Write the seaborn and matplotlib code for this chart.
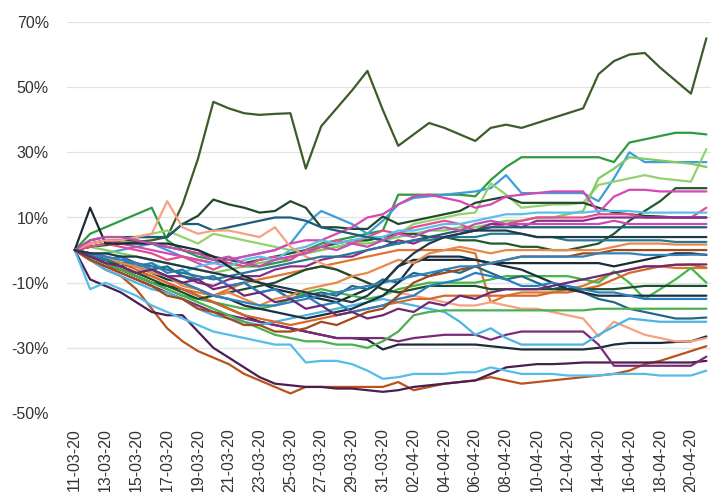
import matplotlib
matplotlib.use("Agg")
import matplotlib.pyplot as plt
import seaborn as sns
import pandas as pd
from matplotlib.ticker import FuncFormatter

# one value per day, 11-03-20 .. 21-04-20, cumulative change in %
dates = pd.date_range("2020-03-11", "2020-04-21", freq="D")

s01 = [0, 1, 1.5, 2, 2.5, 3, 4, 14, 28, 45.5, 43.5, 42, 41.5, 41.8, 42, 25, 38, 43.5, 49, 55, 43, 32, 35.5, 39, 37.5, 35.5, 33.5, 37.5, 38.5, 37.5, 39, 40.5, 42, 43.5, 54, 58, 60, 60.5, 56, 52, 48, 65]
s02 = [0, 5, 7, 9, 11, 13, 3, 0, -2, -3, -4, -5, -5, -4, -3, 0, 2, 3, 4, 5, 6, 17, 17, 17, 17, 17, 16.5, 21.5, 25.5, 28.5, 28.5, 28.5, 28.5, 28.5, 28.5, 27, 33, 34, 35, 36, 36, 35.5]
s03 = [0, -2, -1, 0, 1, 2, 0, -2, -3, -4, -3, -2, -1, 0, 2, 8, 12, 10, 8, 5, 9, 14, 16, 16.5, 17, 17.5, 18, 19, 23, 17.5, 17.5, 17.5, 17.5, 17.5, 15, 22, 30, 27, 27, 27, 27, 27]
s04 = [0, 2, 3, 3, 4, 5, 6, 4, 2, 5, 4, 3, 2, 1, 0, -1, 0, 1, 2, 3, 4, 5, 8, 9, 10, 11, 11.5, 20.5, 17, 13, 13.5, 14, 14, 14.5, 20, 21, 22, 23, 22, 21.5, 21, 31]
s05 = [0, 1, 0, -1, -2, -3, -4, -5, -6, -7, -6, -5, -4, -3, -2, -1, 0, 1, 2, 2, 3, 4, 5, 6, 6, 7, 7, 8, 9, 9, 10, 10, 11, 12, 22, 25, 28.5, 28, 27.5, 27, 26.5, 25.5]
s06 = [0, 1, 2, 3, 3, 2, 1, 0, -1, -2, -3, -4, -3, -2, -1, 0, 1, 2, 3, 3, 4, 5, 5, 4, 4, 3, 3, 2, 2, 1, 1, 0, 0, 1, 2, 5, 9, 12, 15, 19, 19, 19]
s07 = [0, 2, 3, 3, 4, 4, 4, 8, 10.5, 15.5, 14, 13, 11.5, 12, 15, 13, 7, 7, 6.5, 6.5, 10.3, 8, 9, 10, 11, 12, 14.5, 15.5, 16.4, 14.5, 14.5, 14.5, 14.5, 14.5, 13, 11.5, 11, 10.5, 10.3, 10, 10, 10]
s08 = [0, 2, 3, 2, 1, 0, -1, -2, -3, -4, -3, -2, -1, 0, 2, 3, 3, 5, 7, 10, 11, 14, 16.5, 17, 16, 15, 13, 14, 16.4, 17, 17.5, 18, 18, 18, 11.5, 16.4, 18.5, 18.5, 18, 18, 18, 18]
s09 = [0, 1, 2, 1, 0, -1, -3, -2, -4, -6, -4, -5, -3, -2, -3, 0, 1, 3, 2, 4, 6, 5, 7, 8, 9, 8, 6, 7, 8, 9, 10, 10, 10, 10, 11, 11, 11, 10, 10, 10, 10, 13]
s10 = [0, -1, -2, -3, -5, -4, -6, -7, -5, -4, -5, -3, -2, -3, 0, 1, 3, 2, 3, 4, 4, 6, 6, 7, 8, 8, 9, 10, 11, 11, 11.5, 11.5, 11.5, 11.5, 12, 12, 12, 11.5, 11.5, 11.5, 11.5, 11.5]
s11 = [0, -2, -3, -5, -4, -6, -8, -8, -10, -11, -9, -8, -8, -6, -5, -5, -3, -2, -2, 0, 1, 3, 2, 4, 4, 5, 6, 8, 8, 7, 9, 9, 9, 9, 10, 10, 10, 10, 10, 10, 10, 10]
s12 = [0, 3, 4, 4, 4, 4, 4, 8, 8, 6, 7, 8, 9, 10, 10, 9, 7, 6, 5, 4, 3, 2, 3, 4, 5, 6, 6, 7, 7, 7, 7, 7, 7, 7, 7, 7, 7, 7, 7, 7, 7, 7]
s13 = [0, 13, 2, 2, 2, 2, 2, 1, 0, -2, -5, -8, -10, -12, -13, -14, -15, -16, -14, -12, -10, -5, -3, -3, -3, -3, -3, -4, -4, -4, -4, -4, -4, -4, -4, -5, -4, -3, -2, -1, -1, -1.5]
s14 = [0, -3, -5, -6, -7, -8, -10, -12, -13, -14, -12, -10, -9, -8, -7, -6, -5, -4, -3, -2, -1, 0, 0, 0, 0, 0, -1, -16, -14, -13, -13, -13, -12, -11, -9, -7, -6, -5, -5, -5.5, -5.5, -5.5]
s15 = [0, -2, -4, -6, -8, -10, -12, -14, -15, -16, -17, -18, -18, -17, -15, -13, -12, -13, -14, -15, -14, -12, -11, -10, -10, -10, -10, -9, -8, -8, -8, -8, -8, -9, -10, -6.5, -10, -15, -12, -9, -5.5, -10]
s16 = [0, -3, -6, -8, -12, -18, -24, -28, -31, -33, -35, -38, -40, -42, -44, -42, -42, -42, -42, -42, -42, -40.5, -43, -42, -41, -40.5, -40, -39, -40, -41, -40.5, -40, -39.5, -39, -38.5, -38, -37, -35, -34, -32.5, -31, -29.5]
s17 = [0, -9, -11, -13, -16, -19, -20, -20, -25, -30, -33, -36, -39, -41, -41.5, -42, -42, -42.5, -42.5, -43, -43.5, -43, -42, -41.5, -41, -40.5, -40, -38, -36, -35.5, -35, -35, -34.8, -34.5, -34.5, -34.5, -34.5, -34.5, -34.5, -34.5, -34.5, -34]
s18 = [0, -12, -10, -12, -14, -17, -19, -21, -23, -25, -26, -27, -28, -29, -29, -34.5, -34, -34, -35, -37, -39.5, -39, -38, -38, -38, -37.5, -37.5, -36, -37, -38, -38, -38, -38.5, -38.5, -38.5, -38, -38, -38, -38.5, -38.5, -38.5, -37]
s19 = [0, -2, -4, -6, -8, -10, -11, -12, -14, -16, -18, -20, -22, -23, -24, -25, -26, -27, -27, -27.5, -30.5, -29, -29, -29, -29, -29, -29, -29.5, -30, -30.5, -30.5, -30.5, -30.5, -30.5, -30, -29, -28.5, -28.5, -28.5, -28.2, -28, -26.5]
s20 = [0, -3, -5, -7, -9, -11, -13, -15, -17, -19, -20, -21, -22, -23, -24, -25, -26, -27, -27, -27, -27, -28, -27, -26.5, -26, -26, -26, -27.5, -26, -25, -25, -25, -25, -25, -29, -35.5, -35.5, -35.5, -35.5, -35.5, -35.5, -32.7]
s21 = [0, 2, 3, 3, 4, 5, 15, 7, 5, 6, 6, 5, 4, 7, 1, -2, -4, -6, -8, -10, -12, -13, -14, -15, -16, -17, -17, -16, -17, -18, -18, -19, -20, -21, -26.5, -22, -24, -26, -27, -28, -28, -27]
s22 = [0, -1, -3, -2, -4, -6, -5, -8, -9, -8, -11, -10, -13, -12, -15, -14, -13, -14, -11, -12, -9, -10, -7, -8, -6, -7, -5, -7, -9, -8, -10, -12, -11, -13, -15, -16, -18, -19, -20, -21, -21, -20.7]
s23 = [0, -3, -6, -8, -10, -12, -13, -15, -18, -20, -21, -22, -23, -22, -21, -20, -19, -18, -17, -16, -15, -16, -17, -18, -19, -22, -26, -24, -27, -29, -29, -29, -29, -29, -26, -23.5, -21, -21.5, -22, -22, -22, -22]
s24 = [0, -1, -2, -4, -6, -8, -10, -12, -14, -16, -18, -20, -21, -22, -23, -22, -21, -20, -19, -18, -17, -16, -15, -15, -14, -14, -14, -14, -14, -14, -14, -13, -13, -12, -11, -9, -7, -6, -5, -4.5, -4.5, -5.4]
s26 = [0, -1, -3, -5, -7, -9, -11, -13, -15, -14, -13, -12, -11, -10, -8, -6, -5, -6, -8, -10, -12, -13, -12, -11, -11, -11, -11, -12, -12, -12, -12, -12, -12, -12, -12, -12, -11.5, -11, -11, -11, -11, -11]
s27 = [0, -2, -3, -4, -5, -7, -9, -10, -12, -14, -15, -17, -18, -19, -20, -21, -20, -19, -18, -16, -14, -10, -4, -2, -2, -2, -3, -4, -5, -6, -8, -10, -12, -13, -14, -14, -14, -14, -14, -14, -14, -14]
s28 = [0, -1, -3, -2, -5, -4, -7, -6, -9, -8, -11, -10, -13, -12, -15, -14, -17, -16, -19, -18, -17, -15, -14, -11, -10, -9, -7, -8, -9, -11, -11, -10, -11, -12, -13, -13, -14, -15, -15, -15, -15, -15]
s29 = [0, -2, -4, -6, -8, -10, -12, -14, -16, -18, -20, -22, -24, -26, -27, -28, -28, -29, -29, -30, -28, -25, -20, -19, -18.5, -18.5, -18.5, -18.5, -18.5, -18.5, -18.5, -18.5, -18.5, -18.5, -18, -18, -18, -18, -18, -18, -18, -18]
s30 = [0, 3, 4, 4, 3, 2, 1, 0, -1, -3, -2, -4, -5, -3, -2, -1, 1, 0, 2, 1, 3, 5, 4, 6, 7, 6, 8, 9, 8, 8, 8, 8, 8, 8, 8, 9, 8, 8, 8, 8, 8, 8]
s31 = [0, -2, -3, -4, -4, -5, -6, -7, -8, -9, -8, -7, -6, -5, -4, -3, -2, -2, -1, 0, 1, 2, 3, 3, 4, 4, 4, 5, 5, 5, 4, 4, 3, 3, 3, 3, 3, 3, 3, 2.5, 2.5, 2.5]
s32 = [0, -1, -2, -4, -5, -7, -8, -11, -12, -14, -13, -15, -17, -15, -14, -12, -11, -10, -8, -7, -5, -3, -4, -1, 0, 1, 0, -1, 0, 0, 0, 0, 0, 0, 0, 1, 2, 2, 2, 1.7, 1.7, 1.7]
s33 = [0, -3, -5, -7, -9, -11, -14, -15, -18, -19, -21, -23, -23, -25, -25, -24, -22, -23, -21, -19, -18, -14, -10, -8, -7, -6, -5, -4, -3, -2, -2, -2, -2, -1, -1, 0, 0, 0, 0, 0, 0, 0]
s34 = [0, -1, -2, -3, -4, -6, -8, -10, -12, -14, -15, -16, -17, -17, -16, -15, -14, -13, -12, -11, -10, -9, -8, -7, -6, -5, -5, -4, -3, -2, -2, -2, -2, -2, -1, -1, -1, -1.5, -1.5, -1.5, -1.4, -1.4]
s35 = [0, -2, -4, -5, -7, -6, -8, -10, -9, -12, -11, -14, -13, -16, -15, -18, -17, -20, -19, -21, -20, -18, -19, -16, -17, -14, -15, -13, -12, -12, -12, -11, -10, -9, -8, -7, -6, -5, -5, -4.5, -4.4, -4.4]
s36 = [0, -1, -1, -2, -2, -3, -4, -5, -6, -7, -8, -9, -10, -11, -12, -13, -14, -15, -16, -14, -10, -5, -1, 2, 4, 5, 6, 6, 6, 5, 4, 4, 4, 4, 4, 4, 4, 4, 4, 4, 4, 4]

series = {
    "s01": (s01, "#3d5c2c"), "s02": (s02, "#2f9a3f"), "s03": (s03, "#3b9fdc"),
    "s04": (s04, "#92d36e"), "s05": (s05, "#80cc60"), "s06": (s06, "#1f5a2c"),
    "s07": (s07, "#224a2a"), "s08": (s08, "#d649b5"), "s09": (s09, "#e64d8e"),
    "s10": (s10, "#5ac0ea"), "s11": (s11, "#8a2d8c"), "s12": (s12, "#1c5e78"),
    "s13": (s13, "#1c2a35"), "s14": (s14, "#e1762e"), "s15": (s15, "#45b649"),
    "s16": (s16, "#b9531c"), "s17": (s17, "#4a1e4e"), "s18": (s18, "#55bde9"),
    "s19": (s19, "#1d2c3a"), "s20": (s20, "#7c2a78"), "s21": (s21, "#f4a27f"),
    "s22": (s22, "#206a86"), "s23": (s23, "#4db3e3"), "s24": (s24, "#d9672a"),
    "s26": (s26, "#1e4d2d"), "s27": (s27, "#1b3142"), "s28": (s28, "#2b7fc0"),
    "s29": (s29, "#4caf50"), "s30": (s30, "#c44fb0"), "s31": (s31, "#2a7895"),
    "s32": (s32, "#e58a4a"), "s33": (s33, "#a34a1a"), "s34": (s34, "#3182bd"),
    "s35": (s35, "#6d2a70"), "s36": (s36, "#203a48"),
}

frames = []
for name, (vals, _) in series.items():
    frames.append(pd.DataFrame({"day": range(len(dates)), "pct": vals, "name": name}))
df = pd.concat(frames, ignore_index=True)
palette = {name: col for name, (_, col) in series.items()}

sns.set_style("white")
plt.rcParams["font.family"] = ["Liberation Sans", "DejaVu Sans"]

fig = plt.figure(figsize=(7.11, 4.92), dpi=100)
ax = fig.add_axes([67 / 711, 79 / 492, 1 - 67 / 711, 391 / 492])

sns.lineplot(data=df, x="day", y="pct", hue="name", palette=palette,
             linewidth=1.6, legend=False, ax=ax)

ax.set_ylim(-50, 70)
ax.set_yticks(range(-50, 71, 20))
ax.yaxis.set_major_formatter(FuncFormatter(lambda v, _: f"{v:.0f}%"))
ax.set_xlim(-0.5, 41.3)
ticks = list(range(0, len(dates), 2))
ax.set_xticks(ticks)
ax.set_xticklabels([dates[i].strftime("%d-%m-%y") for i in ticks], rotation=90)

ax.grid(axis="y", color="#e3e3e3", linewidth=0.9)
ax.set_axisbelow(True)
for sp in ax.spines.values():
    sp.set_visible(False)
ax.tick_params(axis="y", labelsize=11.5, labelcolor="#333333", pad=13, length=0)
ax.tick_params(axis="x", labelsize=11.5, labelcolor="#333333", pad=11, length=0)
ax.set_xlabel("")
ax.set_ylabel("")

fig.savefig("out.png", dpi=100)
